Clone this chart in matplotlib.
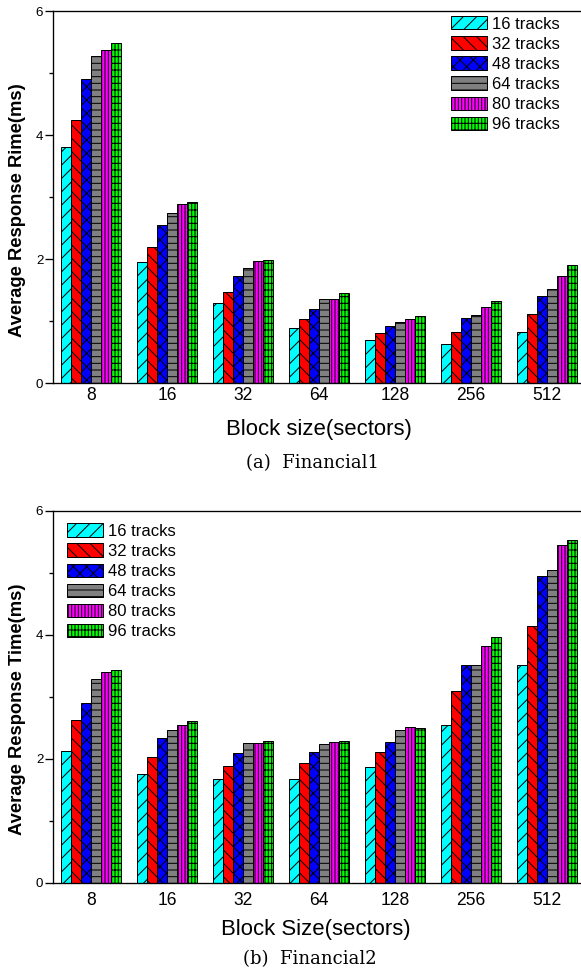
import numpy as np
import matplotlib
matplotlib.use("Agg")
import matplotlib.pyplot as plt

# block sizes (sectors) and track counts
block_sizes = ["8", "16", "32", "64", "128", "256", "512"]
tracks = ["16 tracks", "32 tracks", "48 tracks", "64 tracks", "80 tracks", "96 tracks"]

# Financial1 average response time (ms), one list per track count
fin1_16 = [3.80, 1.95, 1.29, 0.89, 0.69, 0.63, 0.82]
fin1_32 = [4.24, 2.19, 1.46, 1.03, 0.80, 0.82, 1.11]
fin1_48 = [4.90, 2.55, 1.73, 1.20, 0.92, 1.05, 1.40]
fin1_64 = [5.27, 2.74, 1.85, 1.35, 0.99, 1.10, 1.52]
fin1_80 = [5.37, 2.89, 1.97, 1.35, 1.04, 1.23, 1.73]
fin1_96 = [5.49, 2.92, 1.98, 1.45, 1.08, 1.32, 1.91]

# Financial2 average response time (ms)
fin2_16 = [2.12, 1.75, 1.67, 1.67, 1.87, 2.55, 3.51]
fin2_32 = [2.62, 2.02, 1.89, 1.93, 2.11, 3.09, 4.14]
fin2_48 = [2.90, 2.33, 2.09, 2.11, 2.27, 3.51, 4.95]
fin2_64 = [3.28, 2.47, 2.25, 2.24, 2.47, 3.51, 5.04]
fin2_80 = [3.40, 2.54, 2.26, 2.27, 2.51, 3.82, 5.45]
fin2_96 = [3.43, 2.61, 2.28, 2.28, 2.49, 3.97, 5.52]

colors = ["#00ffff", "#ff0000", "#0000ff", "#808080", "#ff00ff", "#00ff00"]
hatches = ["///", "\\\\\\", "xxx", "---", "||||||", "+++|||"]

plt.rcParams["font.family"] = ["Liberation Sans", "DejaVu Sans"]
plt.rcParams["hatch.linewidth"] = 0.6

W, H, DPI = 581, 978, 120
fig = plt.figure(figsize=(W / DPI, H / DPI), dpi=DPI)


def px_axes(left, top, right, bottom):
    return fig.add_axes([left / W, 1 - bottom / H, (right - left) / W, (bottom - top) / H])


def draw_panel(ax, series, legend_anchor, tick_pad):
    x = np.arange(len(block_sizes))
    bw = 0.8 / len(series)
    for i, vals in enumerate(series):
        ax.bar(x - 0.4 + bw * (i + 0.5), vals, bw, color=colors[i], hatch=hatches[i],
               edgecolor="black", linewidth=0.6, label=tracks[i])
    ax.set_xlim(-0.5, 6.5)
    ax.set_ylim(0, 6)
    ax.set_yticks([0, 2, 4, 6])
    ax.set_yticks([1, 3, 5], minor=True)
    ax.set_xticks(x)
    ax.set_xticklabels(block_sizes, fontsize=10.5)
    ax.tick_params(axis="x", length=0, pad=tick_pad)
    ax.tick_params(axis="y", which="major", direction="out", length=4.8, width=0.8,
                   labelsize=8, pad=1)
    ax.tick_params(axis="y", which="minor", direction="out", length=2.6, width=0.8)
    for s in ax.spines.values():
        s.set_linewidth(0.8)
    ax.legend(loc="upper left", bbox_to_anchor=legend_anchor, frameon=False,
              fontsize=10, borderpad=0, borderaxespad=0, handlelength=2.15,
              handleheight=0.85, labelspacing=0.28, handletextpad=0.3)


ax1 = px_axes(53, 11, 585, 383)
draw_panel(ax1, [fin1_16, fin1_32, fin1_48, fin1_64, fin1_80, fin1_96],
           (0.748, 0.986), 2.5)
fig.text(18 / W, 1 - 210 / H, "Average Response Rime(ms)", rotation=90,
         fontsize=11, fontweight="bold", ha="center", va="center")
fig.text(319 / W, 1 - 430 / H, "Block size(sectors)", fontsize=13.3,
         ha="center", va="center")
fig.text(313 / W, 1 - 463 / H, "(a)  Financial1", fontsize=10.8,
         family=["DejaVu Serif"], ha="center", va="center")

ax2 = px_axes(53, 510.7, 585, 882.7)
draw_panel(ax2, [fin2_16, fin2_32, fin2_48, fin2_64, fin2_80, fin2_96],
           (0.026, 0.966), 5.5)
fig.text(18 / W, 1 - 709 / H, "Average Response Time(ms)", rotation=90,
         fontsize=11, fontweight="bold", ha="center", va="center")
fig.text(316 / W, 1 - 930 / H, "Block Size(sectors)", fontsize=13.3,
         ha="center", va="center")
fig.text(310 / W, 1 - 959 / H, "(b)  Financial2", fontsize=10.8,
         family=["DejaVu Serif"], ha="center", va="center")

fig.savefig("out.png", dpi=DPI)
